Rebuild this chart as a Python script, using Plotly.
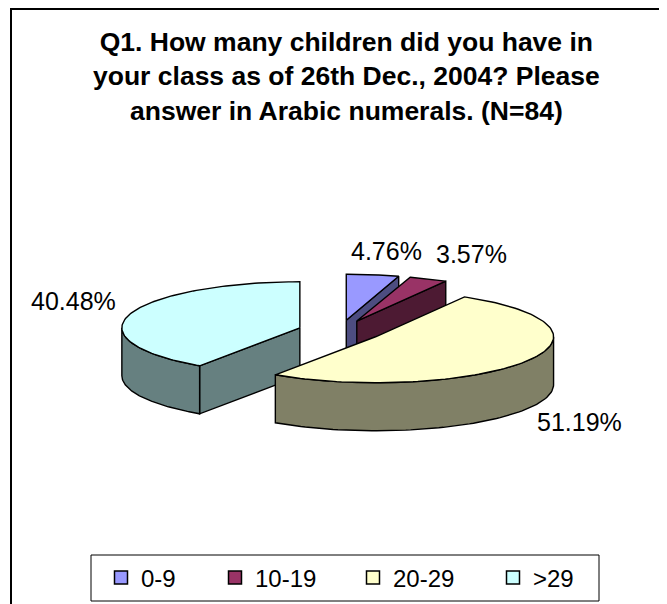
import numpy as np
import plotly.graph_objects as go

# ---------------- data ----------------
categories = ["0-9", "10-19", "20-29", ">29"]
percentages = [4.76, 3.57, 51.19, 40.48]
label_texts = ["4.76%", "3.57%", "51.19%", "40.48%"]
title_lines = ["Q1. How many children did you have in",
               "your class as of 26th Dec., 2004? Please",
               "answer in Arabic numerals. (N=84)"]

# ---------------- style ----------------
top_colors = ["#9999FF", "#993366", "#FFFFCC", "#CCFFFF"]
side_colors = ["#4D4D80", "#4D1A33", "#808066", "#668080"]
FONT = "Liberation Sans, Arial, sans-serif"
W, H = 667, 604
OFF = 8                    # page body margin: data coords == window pixels
CX, CY = 340, 331          # pie centre (pixels)
RX, RY = 178, 46           # ellipse semi-axes of top face
DEPTH = 48                 # thickness of the pie
PULL = 0.236               # explosion as a fraction of the radius
LABEL_NUDGE = [(14, -24), (44, -25), (53, 61), (-56, -13)]
LEGEND_TEXT_X = [143, 257, 395, 535]
LEGEND_Y = 578

fig = go.Figure()


def ell(cx, cy, theta, r=1.0, dz=0.0):
    t = np.radians(theta)
    return cx + RX * r * np.sin(t), cy - RY * r * np.cos(t) + dz


def poly(xs, ys, fill, name):
    xs = list(xs) + [xs[0]]
    ys = list(ys) + [ys[0]]
    fig.add_trace(go.Scatter(x=xs, y=ys, mode="lines", fill="toself",
                             fillcolor=fill, line=dict(color="black", width=1.4),
                             hoverinfo="skip", showlegend=False, name=name))


total = float(sum(percentages))
slices = []
start = 0.0
for i, v in enumerate(percentages):
    span = 360.0 * v / total
    slices.append((i, start, start + span))
    start += span

# painter's order: back slices first
order = sorted(slices, key=lambda s: -np.cos(np.radians((s[1] + s[2]) / 2)))

for i, t1, t2 in order:
    tm = (t1 + t2) / 2
    ox, oy = ell(CX, CY, tm, PULL)
    # radial faces
    for t, visible in ((t1, np.sin(np.radians(t1)) < -1e-6),
                       (t2, np.sin(np.radians(t2)) > 1e-6)):
        if visible:
            px, py = ell(ox, oy, t)
            poly([ox, px, px, ox], [oy, py, py + DEPTH, oy + DEPTH],
                 side_colors[i], categories[i])
    # outer wall (front half only)
    lo, hi = max(t1, 90.0), min(t2, 270.0)
    if lo < hi:
        th = np.linspace(lo, hi, 80)
        tx, ty = ell(ox, oy, th)
        xs = np.concatenate([tx, tx[::-1]])
        ys = np.concatenate([ty, (ty + DEPTH)[::-1]])
        poly(xs, ys, side_colors[i], categories[i])
    # top face
    th = np.linspace(t1, t2, 120)
    tx, ty = ell(ox, oy, th)
    poly(np.concatenate([[ox], tx]), np.concatenate([[oy], ty]),
         top_colors[i], categories[i])
    # data label
    lx, ly = ell(ox, oy, tm)
    fig.add_annotation(x=lx + LABEL_NUDGE[i][0], y=ly + LABEL_NUDGE[i][1],
                       xref="x", yref="y", text=label_texts[i], showarrow=False,
                       font=dict(family=FONT, size=25, color="black"),
                       xanchor="center", yanchor="middle")

# legend entries (one legend per entry so spacing can follow the original)
for i, c in enumerate(categories):
    key = "legend" if i == 0 else f"legend{i + 1}"
    fig.add_trace(go.Scatter(x=[None], y=[None], mode="markers", name=c,
                             marker=dict(symbol="square", size=13, color=top_colors[i],
                                         line=dict(color="black", width=1.5)),
                             legend=key, showlegend=True))
    fig.update_layout({key: dict(x=(LEGEND_TEXT_X[i] - 42 - OFF) / W, xanchor="left",
                                 y=(H + OFF - LEGEND_Y) / H, yanchor="middle",
                                 bgcolor="rgba(0,0,0,0)", borderwidth=0,
                                 font=dict(family=FONT, size=24, color="black"))})

# title
fig.add_annotation(x=346, y=76.5, xref="x", yref="y", showarrow=False,
                   text="<b>" + "<br>".join(title_lines) + "</b>",
                   font=dict(family=FONT, size=26.5, color="black"),
                   xanchor="center", yanchor="middle", align="center")

# chart frame and legend box
fig.add_shape(type="rect", xref="x", yref="y", x0=11, y0=9, x1=W + 40, y1=H + 40,
              line=dict(color="black", width=2), layer="below")
fig.add_shape(type="rect", xref="x", yref="y", x0=91, y0=555, x1=599, y1=601,
              line=dict(color="black", width=1), layer="below")

fig.update_layout(
    width=W, height=H, margin=dict(l=0, r=0, t=0, b=0, pad=0),
    paper_bgcolor="white", plot_bgcolor="white",
    xaxis=dict(range=[OFF, W + OFF], visible=False, fixedrange=True),
    yaxis=dict(range=[H + OFF, OFF], visible=False, fixedrange=True),
    font=dict(family=FONT),
)

fig.write_html("out.html")
